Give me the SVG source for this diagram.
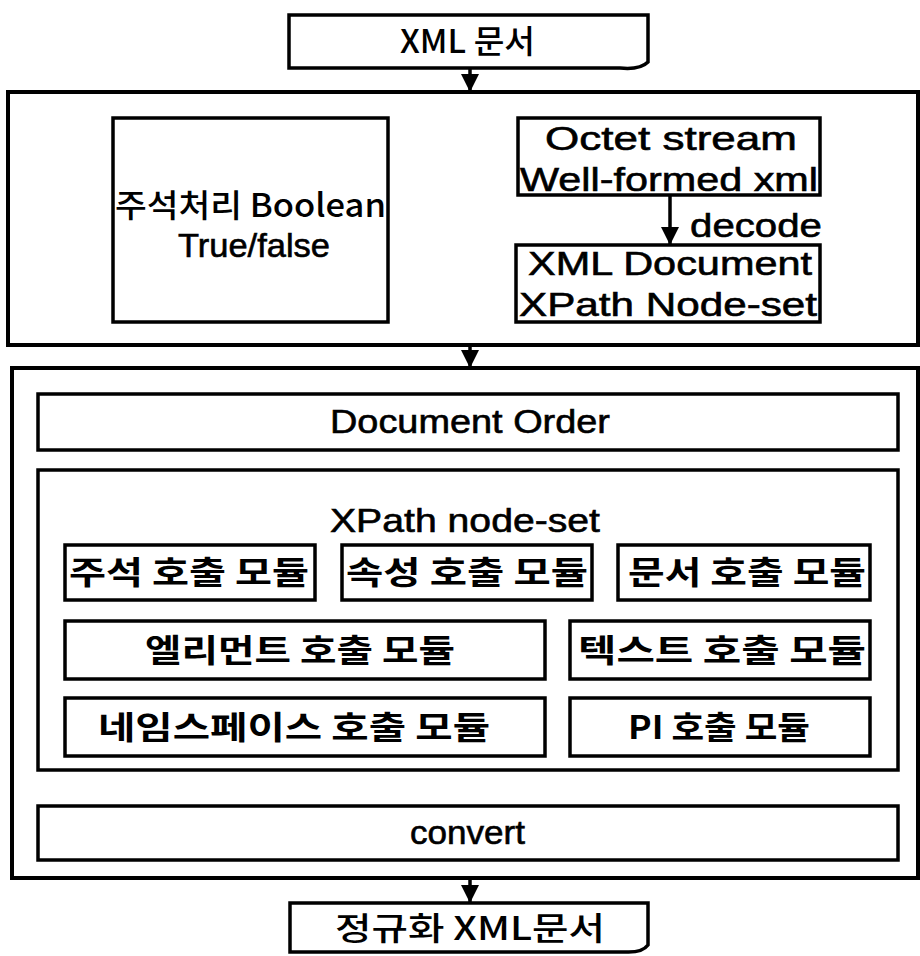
<svg xmlns="http://www.w3.org/2000/svg" width="920" height="956" viewBox="0 0 920 956">
<defs>
<style>
.box{fill:#fff;stroke:#000;stroke-width:3.5}
.cont{fill:none;stroke:#000;stroke-width:4}
.t{font-family:"Liberation Sans","Noto Sans CJK KR",sans-serif;font-size:33px;fill:#000;stroke:#000;stroke-width:0.6;text-anchor:start}
.k{font-family:"Noto Sans CJK KR","Liberation Sans",sans-serif;font-size:32px;font-weight:bold;fill:#000;text-anchor:start}
.km{font-family:"Noto Sans CJK KR","Liberation Sans",sans-serif;font-size:32px;font-weight:500;fill:#000;text-anchor:start}
.line{stroke:#000;stroke-width:3.5;fill:none}
</style>
<marker id="arr" viewBox="0 0 12 12" refX="12" refY="6" markerWidth="18" markerHeight="18" orient="auto" markerUnits="userSpaceOnUse">
<path d="M0,0 L12,6 L0,12 Z" fill="#000"/>
</marker>
</defs>
<rect width="920" height="956" fill="#fff"/>

<g id="doc-in">
<path class="box" d="M289,15 H648 V62 Q640,70 620,68 H289 Z"/>
<text class="km" x="400" y="53" textLength="135" lengthAdjust="spacingAndGlyphs">XML 문서</text>
</g>

<g id="stage1">
<rect class="cont" x="8" y="92" width="910" height="253"/>
</g>
<g id="comment-proc">
<rect class="box" x="113" y="118" width="275" height="204"/>
<text class="km" x="115" y="217" textLength="271" lengthAdjust="spacingAndGlyphs">주석처리 Boolean</text>
<text class="t" x="178" y="257" textLength="152" lengthAdjust="spacingAndGlyphs">True/false</text>
</g>
<g id="octet">
<rect class="box" x="518" y="118" width="302" height="77"/>
<text class="t" x="545" y="150" textLength="252" lengthAdjust="spacingAndGlyphs">Octet stream</text>
<text class="t" x="520" y="191" textLength="298" lengthAdjust="spacingAndGlyphs">Well-formed xml</text>
</g>
<g id="xmldoc">
<rect class="box" x="516" y="245" width="304" height="77"/>
<text class="t" x="528" y="275" textLength="284" lengthAdjust="spacingAndGlyphs">XML Document</text>
<text class="t" x="519" y="316" textLength="298" lengthAdjust="spacingAndGlyphs">XPath Node-set</text>
</g>

<g id="stage2">
<rect class="cont" x="12" y="368" width="906" height="510"/>
</g>
<g id="doc-order">
<rect class="box" x="38" y="394" width="860" height="56"/>
<text class="t" x="330" y="433" textLength="280" lengthAdjust="spacingAndGlyphs">Document Order</text>
</g>
<g id="nodeset">
<rect class="box" x="38" y="470" width="860" height="300"/>
<text class="t" x="330" y="532" textLength="270" lengthAdjust="spacingAndGlyphs">XPath node-set</text>
</g>
<g id="m1"><rect class="box" x="65" y="545" width="250" height="55"/><text class="k" x="69" y="584" textLength="240" lengthAdjust="spacingAndGlyphs">주석 호출 모듈</text></g>
<g id="m2"><rect class="box" x="342" y="545" width="250" height="55"/><text class="k" x="346" y="584" textLength="242" lengthAdjust="spacingAndGlyphs">속성 호출 모듈</text></g>
<g id="m3"><rect class="box" x="618" y="545" width="252" height="55"/><text class="k" x="628" y="584" textLength="238" lengthAdjust="spacingAndGlyphs">문서 호출 모듈</text></g>
<g id="m4"><rect class="box" x="65" y="621" width="480" height="58"/><text class="k" x="145" y="662" textLength="310" lengthAdjust="spacingAndGlyphs">엘리먼트 호출 모듈</text></g>
<g id="m5"><rect class="box" x="570" y="621" width="300" height="58"/><text class="k" x="578" y="662" textLength="288" lengthAdjust="spacingAndGlyphs">텍스트 호출 모듈</text></g>
<g id="m6"><rect class="box" x="65" y="698" width="480" height="58"/><text class="k" x="98" y="739" textLength="392" lengthAdjust="spacingAndGlyphs">네임스페이스 호출 모듈</text></g>
<g id="m7"><rect class="box" x="570" y="698" width="300" height="58"/><text class="k" x="628" y="739" textLength="182" lengthAdjust="spacingAndGlyphs">PI 호출 모듈</text></g>
<g id="convert">
<rect class="box" x="38" y="806" width="860" height="54"/>
<text class="t" x="410" y="844" textLength="115" lengthAdjust="spacingAndGlyphs">convert</text>
</g>

<g id="doc-out">
<path class="box" d="M290,903 H648 V945 Q642,953 625,952 H290 Z"/>
<text class="km" x="335" y="940" textLength="270" lengthAdjust="spacingAndGlyphs">정규화 XML문서</text>
</g>

<g id="connectors">
<line class="line" x1="470" y1="68" x2="470" y2="92" marker-end="url(#arr)"/>
<line class="line" x1="670" y1="195" x2="670" y2="245" marker-end="url(#arr)"/>
<line class="line" x1="470" y1="345" x2="470" y2="368" marker-end="url(#arr)"/>
<line class="line" x1="470" y1="878" x2="470" y2="903" marker-end="url(#arr)"/>
<text class="t" x="690" y="237" textLength="132" lengthAdjust="spacingAndGlyphs">decode</text>
</g>
</svg>
